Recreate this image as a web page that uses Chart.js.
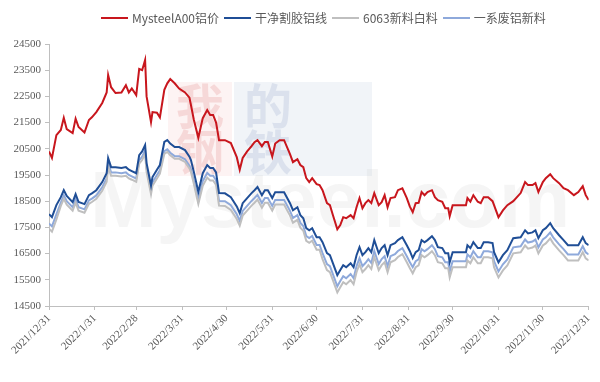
<!DOCTYPE html>
<html><head><meta charset="utf-8">
<script src="https://cdn.jsdelivr.net/npm/chart.js@4.4.0/dist/chart.umd.min.js"></script>
<style>
html,body{margin:0;padding:0;background:#fff;}
#wrap{position:relative;width:600px;height:382px;}
#legend{position:absolute;top:9px;left:101px;display:flex;align-items:center;font:12px "Noto Sans CJK SC";color:#595959;white-space:nowrap;}
#legend .it{display:flex;align-items:center;margin-right:5px;}
#legend .ln{width:27px;height:2px;margin-right:4px;}
</style></head>
<body><div id="wrap"><canvas id="c" width="600" height="382"></canvas><div id="legend"></div></div>
<script>
const dates = ['2021/12/31','2022/1/2','2022/1/5','2022/1/8','2022/1/10','2022/1/12','2022/1/16','2022/1/18','2022/1/20','2022/1/24','2022/1/27','2022/1/29','2022/2/1','2022/2/5','2022/2/8','2022/2/9','2022/2/11','2022/2/14','2022/2/18','2022/2/21','2022/2/23','2022/2/25','2022/2/28','2022/3/2','2022/3/4','2022/3/6','2022/3/7','2022/3/10','2022/3/11','2022/3/14','2022/3/16','2022/3/19','2022/3/21','2022/3/23','2022/3/26','2022/3/29','2022/4/2','2022/4/5','2022/4/6','2022/4/8','2022/4/11','2022/4/14','2022/4/17','2022/4/19','2022/4/21','2022/4/23','2022/4/25','2022/4/29','2022/5/3','2022/5/7','2022/5/9','2022/5/11','2022/5/14','2022/5/17','2022/5/19','2022/5/21','2022/5/24','2022/5/26','2022/5/28','2022/5/31','2022/6/2','2022/6/5','2022/6/8','2022/6/12','2022/6/14','2022/6/17','2022/6/19','2022/6/21','2022/6/23','2022/6/25','2022/6/27','2022/6/30','2022/7/2','2022/7/4','2022/7/7','2022/7/9','2022/7/11','2022/7/14','2022/7/16','2022/7/18','2022/7/20','2022/7/23','2022/7/25','2022/7/27','2022/7/29','2022/7/31','2022/8/2','2022/8/4','2022/8/6','2022/8/8','2022/8/11','2022/8/13','2022/8/15','2022/8/17','2022/8/19','2022/8/22','2022/8/24','2022/8/27','2022/8/30','2022/9/1','2022/9/3','2022/9/5','2022/9/7','2022/9/9','2022/9/11','2022/9/13','2022/9/16','2022/9/18','2022/9/20','2022/9/23','2022/9/25','2022/9/27','2022/9/28','2022/9/30','2022/10/4','2022/10/9','2022/10/10','2022/10/12','2022/10/14','2022/10/17','2022/10/19','2022/10/21','2022/10/24','2022/10/27','2022/10/28','2022/10/31','2022/11/3','2022/11/6','2022/11/10','2022/11/15','2022/11/18','2022/11/20','2022/11/23','2022/11/25','2022/11/27','2022/11/30','2022/12/2','2022/12/5','2022/12/7','2022/12/11','2022/12/14','2022/12/17','2022/12/21','2022/12/24','2022/12/27','2022/12/29','2022/12/31'];

const mysteelA00 = [20400,20150,21020,21220,21680,21250,21100,21650,21330,21120,21600,21700,21900,22250,22650,23320,22850,22630,22650,22930,22650,22800,22550,23550,23500,23890,22500,21520,21900,21880,21700,22750,23000,23160,23000,22800,22650,22450,22170,21600,20920,21670,21980,21790,21790,21500,20830,20830,20720,20180,19700,20150,20400,20600,20750,20830,20600,20760,20760,20200,20700,20830,20830,20300,19990,20100,19880,19800,19380,19230,19380,19150,19115,18920,18425,18350,17970,17430,17590,17890,17850,17970,17850,18270,18620,18230,18425,18540,18430,18810,18350,18465,18730,18270,18620,18655,18920,18995,18620,18300,18080,18425,18440,18850,18730,18850,18920,18655,18540,18480,18230,18230,17930,18350,18350,18350,18620,18480,18730,18480,18425,18655,18655,18500,18350,17890,18150,18350,18500,18810,19230,19115,19115,19190,18850,19230,19380,19530,19380,19190,18995,18920,18730,18850,19076,18730,18550];

const cleanWire = [18005,17890,18350,18655,18920,18700,18465,18770,18470,18390,18730,18800,18920,19230,19570,20145,19800,19800,19765,19800,19700,19650,19570,20260,20400,20640,19955,19100,19420,19700,19880,20760,20830,20700,20565,20565,20450,20200,20070,19610,18850,19570,19880,19765,19765,19600,18810,18800,18650,18300,18045,18425,18620,18810,18920,19040,18730,18920,18920,18620,18845,18845,18845,18425,18155,18270,17970,17850,17470,17390,17470,17125,17125,16935,16515,16440,16135,15675,15870,16060,15980,16135,15980,16440,16745,16440,16555,16710,16555,17015,16515,16710,16820,16440,16820,16900,17015,17125,16820,16600,16325,16555,16630,17015,16935,17015,17165,17015,16745,16710,16515,16515,16170,16555,16555,16555,16820,16710,16935,16710,16710,16935,16935,16900,16555,16170,16440,16630,17090,17125,17390,17270,17310,17390,17090,17390,17470,17660,17470,17200,17015,16820,16820,16820,17125,16900,16820];

const new6063 = [17450,17340,17800,18320,18590,18370,18140,18440,18140,18060,18400,18470,18590,18900,19240,19820,19470,19470,19440,19470,19370,19320,19240,19930,20070,20310,19620,18770,19090,19370,19550,20310,20380,20250,20120,20120,20000,19750,19620,19160,18400,19090,19400,19290,19290,19120,18330,18320,18170,17820,17570,17950,18140,18330,18440,18560,18250,18440,18440,18140,18370,18370,18370,17950,17680,17790,17490,17370,16990,16910,16990,16650,16650,16290,15870,15790,15490,15020,15220,15410,15330,15490,15330,15790,16100,15790,15910,16060,15910,16370,15870,16060,16170,15790,16170,16250,16370,16480,16170,15950,15750,15980,16050,16440,16360,16440,16590,16440,16170,16130,15940,15940,15590,15980,15980,15980,16240,16130,16360,16130,16130,16360,16360,16320,15980,15590,15860,16050,16510,16550,16810,16690,16730,16810,16510,16810,16890,17080,16890,16620,16440,16240,16240,16240,16550,16320,16240];

const scrapSeries1 = [17650,17540,18000,18450,18720,18500,18270,18570,18270,18190,18530,18600,18720,19030,19370,19950,19600,19600,19570,19600,19500,19450,19370,20060,20200,20440,19750,18900,19220,19500,19680,20410,20480,20350,20220,20220,20100,19850,19720,19260,18500,19270,19580,19470,19470,19300,18510,18500,18350,18000,17750,18130,18320,18510,18620,18740,18430,18620,18620,18320,18550,18550,18550,18130,17860,17970,17670,17550,17170,17090,17170,16830,16830,16520,16100,16020,15720,15250,15450,15640,15560,15720,15560,16020,16330,16020,16140,16290,16140,16600,16100,16290,16400,16020,16400,16480,16600,16710,16400,16180,15980,16210,16280,16670,16590,16670,16820,16670,16400,16360,16170,16170,15820,16210,16210,16210,16470,16360,16590,16360,16360,16590,16590,16550,16210,15820,16090,16280,16740,16780,17040,16920,16960,17040,16740,17040,17120,17310,17120,16850,16670,16470,16470,16470,16780,16550,16470];

const tickLabels = ['2021/12/31','2022/1/31','2022/2/28','2022/3/31','2022/4/30','2022/5/31','2022/6/30','2022/7/31','2022/8/31','2022/9/30','2022/10/31','2022/11/30','2022/12/31'];
const seriesNames = ['MysteelA00铝价','干净割胶铝线','6063新料白料','一系废铝新料'];
const seriesColors = ['#C8161D','#1F4E96','#BFBFBF','#8EA9DB'];
const seriesValues = [mysteelA00, cleanWire, new6063, scrapSeries1];

function dayOf(s){const p=s.split('/').map(Number);return (Date.UTC(p[0],p[1]-1,p[2])-Date.UTC(2021,11,31))/864e5;}
const xs = dates.map(dayOf);
const tickDays = tickLabels.map(dayOf);

const lg = document.getElementById('legend');
seriesNames.forEach((n,i)=>{
  const it=document.createElement('div');it.className='it';
  const ln=document.createElement('div');ln.className='ln';ln.style.background=seriesColors[i];
  const tx=document.createElement('span');tx.textContent=n;
  it.appendChild(ln);it.appendChild(tx);lg.appendChild(it);
});

const watermark = {
  id:'watermark',
  beforeDatasetsDraw(chart){
    const ctx = chart.ctx;
    ctx.save();
    ctx.fillStyle='rgba(225,80,80,0.07)'; ctx.fillRect(168,82,64,94);
    ctx.fillStyle='rgba(80,110,170,0.08)'; ctx.fillRect(234,82,138,94);
    ctx.textBaseline='middle'; ctx.textAlign='center';
    ctx.font='bold 48px "Noto Sans CJK SC"';
    ctx.fillStyle='rgba(210,60,60,0.15)'; ctx.fillText('我',200,106); ctx.fillText('钢',200,152);
    ctx.fillStyle='rgba(70,100,160,0.13)'; ctx.fillText('的',268,106); ctx.fillText('铁',268,152);
    ctx.font='bold 80px "Liberation Sans"';
    ctx.fillStyle='rgba(160,160,160,0.11)';
    ctx.fillText('Mysteel.com',330,205);
    ctx.restore();
  }
};

const axisColor = '#BFBFBF';
const tickFont = {family:'"Liberation Serif", serif', size:11};

new Chart(document.getElementById('c'), {
  type:'line',
  plugins:[watermark],
  data:{
    datasets: seriesNames.map((n,i)=>({
      label:n,
      data: xs.map((x,j)=>({x:x, y:seriesValues[i][j]})),
      borderColor: seriesColors[i],
      backgroundColor: seriesColors[i],
      borderWidth: 2,
      pointRadius: 0,
      tension: 0,
      fill:false
    }))
  },
  options:{
    responsive:false,
    animation:false,
    layout:{padding:{top:44,right:10,left:0,bottom:0}},
    plugins:{legend:{display:false},tooltip:{enabled:false}},
    scales:{
      x:{
        type:'linear', min:0, max:365,
        afterBuildTicks:(s)=>{s.ticks = tickDays.map(v=>({value:v}));},
        afterFit:(s)=>{s.height = 76;},
        grid:{display:true, drawOnChartArea:false, drawTicks:true, tickLength:4, color:axisColor},
        border:{display:true, color:axisColor},
        ticks:{autoSkip:false, minRotation:45, maxRotation:45, color:'#595959', font:tickFont, padding:2,
          callback:(v,i)=>tickLabels[i]}
      },
      y:{
        min:14500, max:24500,
        afterFit:(s)=>{s.width = 49;},
        grid:{display:true, drawOnChartArea:false, drawTicks:true, tickLength:4, color:axisColor},
        border:{display:true, color:axisColor},
        ticks:{stepSize:1000, color:'#595959', font:tickFont, padding:4, callback:(v)=>String(v)}
      }
    }
  }
});
</script>
</body></html>
